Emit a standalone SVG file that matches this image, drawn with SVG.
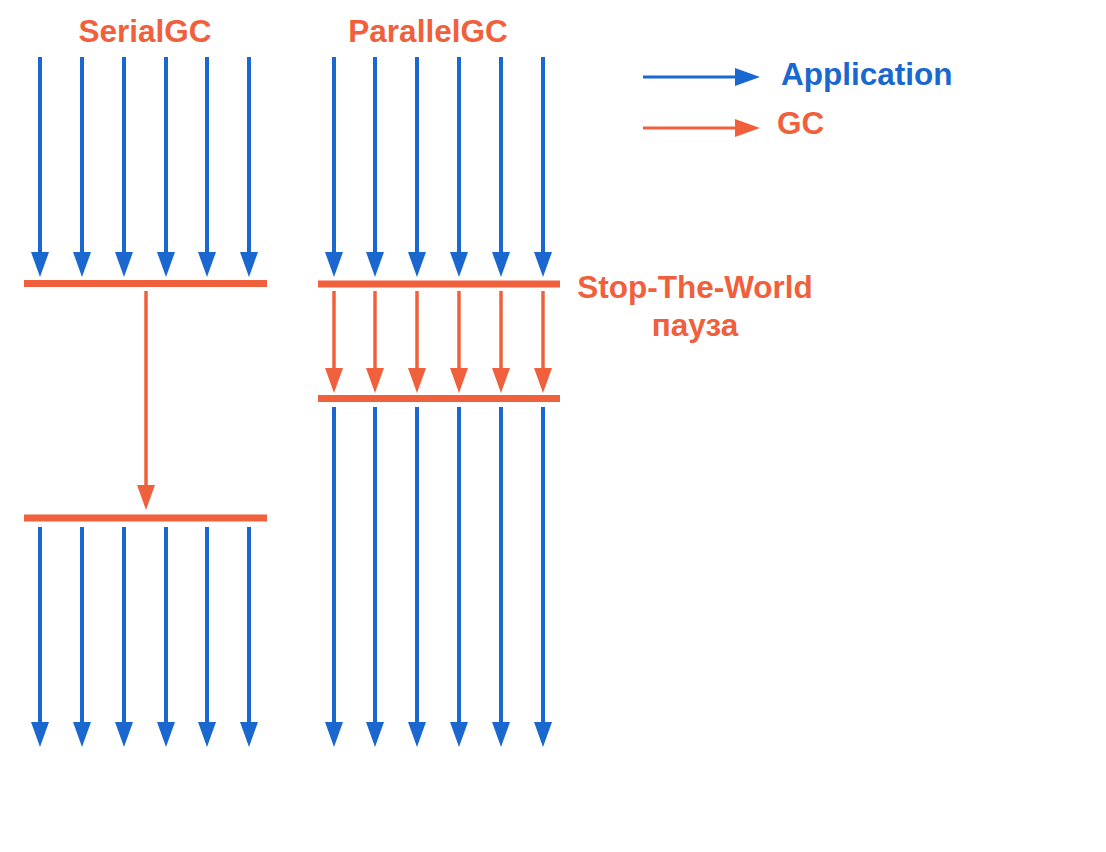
<svg xmlns="http://www.w3.org/2000/svg" width="1106" height="852" viewBox="0 0 1106 852">
<style>
.t{font-family:"Liberation Sans",Arial,sans-serif;font-weight:bold;font-size:31.5px}
.o{fill:#f0603c}
.b{fill:#1a67cf}
.bar{stroke:#f0603c;stroke-width:7}
.ab line{stroke:#1a67cf;stroke-width:4;marker-end:url(#hb)}
.ao line{stroke:#f0603c;stroke-width:3.5;marker-end:url(#ho)}
.lb{stroke:#1a67cf;stroke-width:3;marker-end:url(#hb)}
.lo{stroke:#f0603c;stroke-width:3;marker-end:url(#ho)}
</style>
<defs>
<marker id="hb" markerUnits="userSpaceOnUse" viewBox="0 0 25 18" refX="12" refY="9" markerWidth="25" markerHeight="18" orient="auto"><path d="M0,0 L25,9 L0,18 z" fill="#1a67cf"/></marker>
<marker id="ho" markerUnits="userSpaceOnUse" viewBox="0 0 25 18" refX="12" refY="9" markerWidth="25" markerHeight="18" orient="auto"><path d="M0,0 L25,9 L0,18 z" fill="#f0603c"/></marker>
</defs>
<rect width="1106" height="852" fill="#fff"/>
<g id="title-serial"><text class="t o" x="145" y="42" text-anchor="middle">SerialGC</text></g>
<g id="title-parallel"><text class="t o" x="428" y="42" text-anchor="middle">ParallelGC</text></g>
<g id="legend">
<line class="lb" x1="643" y1="77" x2="747" y2="77"/>
<text class="t b" x="781" y="85">Application</text>
<line class="lo" x1="643" y1="128" x2="747" y2="128"/>
<text class="t o" x="777" y="134">GC</text>
</g>
<g id="stw-label"><text class="t o" text-anchor="middle"><tspan x="695" y="298">Stop-The-World</tspan><tspan x="695" y="336">пауза</tspan></text></g>
<g id="serial-bar-top"><line class="bar" x1="24" y1="283.5" x2="267" y2="283.5"/></g>
<g id="serial-bar-bottom"><line class="bar" x1="24" y1="518" x2="267" y2="518"/></g>
<g id="parallel-bar-top"><line class="bar" x1="318" y1="284" x2="560" y2="284"/></g>
<g id="parallel-bar-bottom"><line class="bar" x1="318" y1="398.5" x2="560" y2="398.5"/></g>
<g id="connectors">
<g class="ab">
<line x1="40" y1="57" x2="40" y2="264"/><line x1="82" y1="57" x2="82" y2="264"/><line x1="124" y1="57" x2="124" y2="264"/><line x1="166" y1="57" x2="166" y2="264"/><line x1="207" y1="57" x2="207" y2="264"/><line x1="249" y1="57" x2="249" y2="264"/>
<line x1="40" y1="527" x2="40" y2="734"/><line x1="82" y1="527" x2="82" y2="734"/><line x1="124" y1="527" x2="124" y2="734"/><line x1="166" y1="527" x2="166" y2="734"/><line x1="207" y1="527" x2="207" y2="734"/><line x1="249" y1="527" x2="249" y2="734"/>
<line x1="334" y1="57" x2="334" y2="264"/><line x1="375" y1="57" x2="375" y2="264"/><line x1="417" y1="57" x2="417" y2="264"/><line x1="459" y1="57" x2="459" y2="264"/><line x1="501" y1="57" x2="501" y2="264"/><line x1="543" y1="57" x2="543" y2="264"/>
<line x1="334" y1="407" x2="334" y2="734"/><line x1="375" y1="407" x2="375" y2="734"/><line x1="417" y1="407" x2="417" y2="734"/><line x1="459" y1="407" x2="459" y2="734"/><line x1="501" y1="407" x2="501" y2="734"/><line x1="543" y1="407" x2="543" y2="734"/>
</g>
<g class="ao">
<line x1="146" y1="291" x2="146" y2="497"/>
<line x1="334" y1="291" x2="334" y2="380"/><line x1="375" y1="291" x2="375" y2="380"/><line x1="417" y1="291" x2="417" y2="380"/><line x1="459" y1="291" x2="459" y2="380"/><line x1="501" y1="291" x2="501" y2="380"/><line x1="543" y1="291" x2="543" y2="380"/>
</g>
</g>
</svg>
